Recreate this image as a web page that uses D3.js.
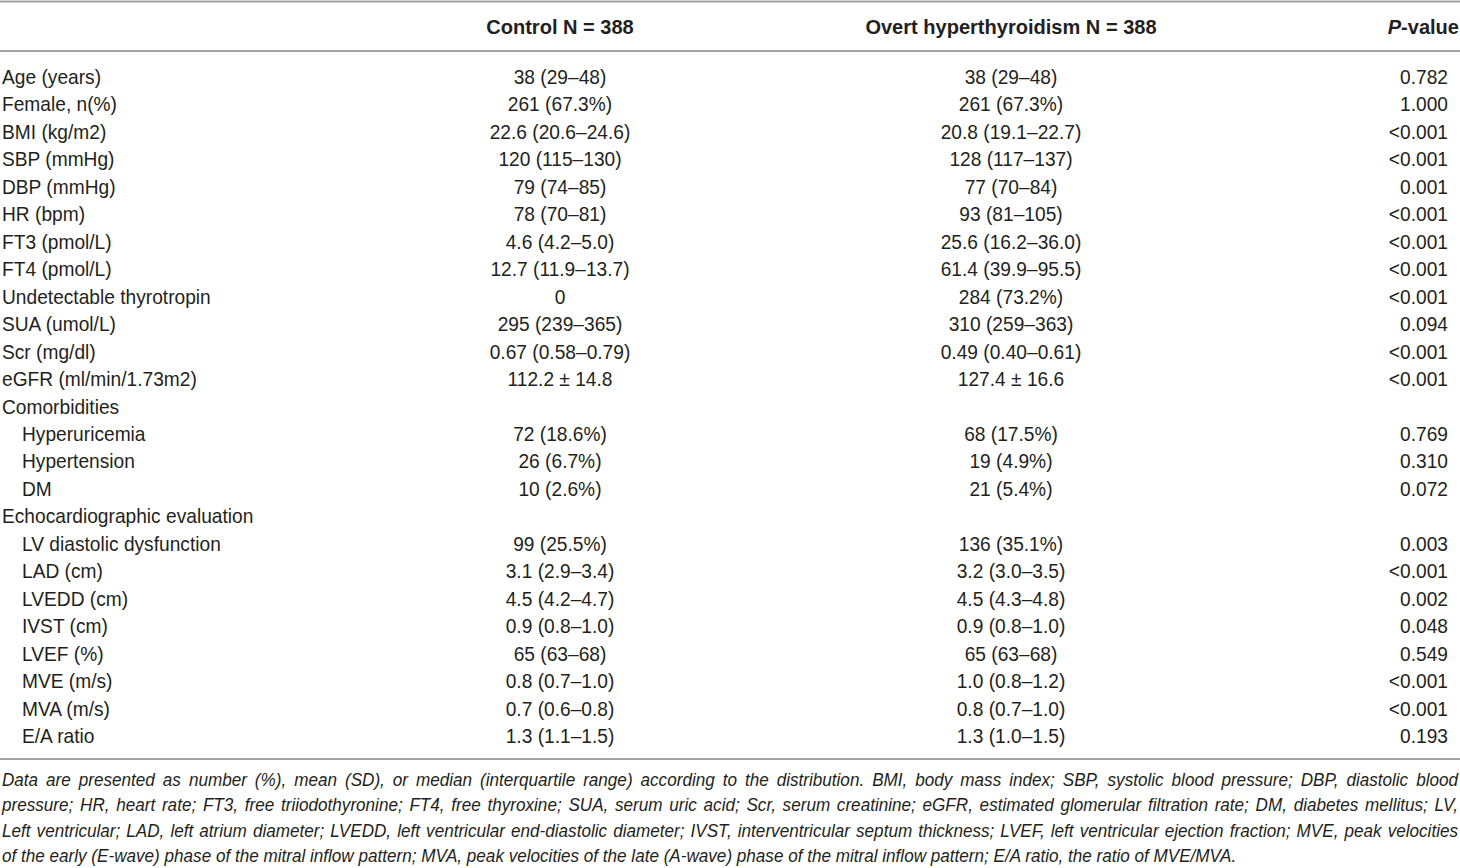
<!DOCTYPE html>
<html>
<head>
<meta charset="utf-8">
<script src="https://cdn.jsdelivr.net/npm/d3@7"></script>
<style>
  body { margin: 0; background: #fff; }
  svg text { font-family: "Liberation Sans", Arial, sans-serif; fill: #231f20; }
</style>
</head>
<body>
<div id="table"></div>
<script>
"use strict";

// table content
var headers = ["Control N = 388", "Overt hyperthyroidism N = 388", "P-value"];

var labels = [
    "Age (years)", "Female, n(%)", "BMI (kg/m2)", "SBP (mmHg)", "DBP (mmHg)", "HR (bpm)",
    "FT3 (pmol/L)", "FT4 (pmol/L)", "Undetectable thyrotropin", "SUA (umol/L)", "Scr (mg/dl)",
    "eGFR (ml/min/1.73m2)", "Comorbidities", "Hyperuricemia", "Hypertension", "DM",
    "Echocardiographic evaluation", "LV diastolic dysfunction", "LAD (cm)", "LVEDD (cm)",
    "IVST (cm)", "LVEF (%)", "MVE (m/s)", "MVA (m/s)", "E/A ratio"
];

// 1 = sub-item, indented
var indents = [0, 0, 0, 0, 0, 0, 0, 0, 0, 0, 0, 0, 0, 1, 1, 1, 0, 1, 1, 1, 1, 1, 1, 1, 1];

var controlValues = [
    "38 (29–48)", "261 (67.3%)", "22.6 (20.6–24.6)", "120 (115–130)", "79 (74–85)", "78 (70–81)",
    "4.6 (4.2–5.0)", "12.7 (11.9–13.7)", "0", "295 (239–365)", "0.67 (0.58–0.79)", "112.2 ± 14.8",
    "", "72 (18.6%)", "26 (6.7%)", "10 (2.6%)", "", "99 (25.5%)", "3.1 (2.9–3.4)", "4.5 (4.2–4.7)",
    "0.9 (0.8–1.0)", "65 (63–68)", "0.8 (0.7–1.0)", "0.7 (0.6–0.8)", "1.3 (1.1–1.5)"
];

var overtValues = [
    "38 (29–48)", "261 (67.3%)", "20.8 (19.1–22.7)", "128 (117–137)", "77 (70–84)", "93 (81–105)",
    "25.6 (16.2–36.0)", "61.4 (39.9–95.5)", "284 (73.2%)", "310 (259–363)", "0.49 (0.40–0.61)", "127.4 ± 16.6",
    "", "68 (17.5%)", "19 (4.9%)", "21 (5.4%)", "", "136 (35.1%)", "3.2 (3.0–3.5)", "4.5 (4.3–4.8)",
    "0.9 (0.8–1.0)", "65 (63–68)", "1.0 (0.8–1.2)", "0.8 (0.7–1.0)", "1.3 (1.0–1.5)"
];

var pValues = [
    "0.782", "1.000", "<0.001", "<0.001", "0.001", "<0.001", "<0.001", "<0.001", "<0.001", "0.094",
    "<0.001", "<0.001", "", "0.769", "0.310", "0.072", "", "0.003", "<0.001", "0.002", "0.048",
    "0.549", "<0.001", "<0.001", "0.193"
];

var footnoteLines = [
    "Data are presented as number (%), mean (SD), or median (interquartile range) according to the distribution. BMI, body mass index; SBP, systolic blood pressure; DBP, diastolic blood",
    "pressure; HR, heart rate; FT3, free triiodothyronine; FT4, free thyroxine; SUA, serum uric acid; Scr, serum creatinine; eGFR, estimated glomerular filtration rate; DM, diabetes mellitus; LV,",
    "Left ventricular; LAD, left atrium diameter; LVEDD, left ventricular end-diastolic diameter; IVST, interventricular septum thickness; LVEF, left ventricular ejection fraction; MVE, peak velocities",
    "of the early (E-wave) phase of the mitral inflow pattern; MVA, peak velocities of the late (A-wave) phase of the mitral inflow pattern; E/A ratio, the ratio of MVE/MVA."
];

var width = 1460, height = 868;

// the original uses a condensed grotesque; squeeze Liberation Sans horizontally
var bodyFont = 21, bodyScale = 0.913;
var headFont = 21, headScale = 0.955;
var noteFont = 17.5, noteScale = 0.978;

var svg = d3.select("#table")
    .append("svg")
    .attr("width", width)
    .attr("height", height);

// row baselines
var y = d3.scalePoint()
    .domain(d3.range(labels.length))
    .range([84, 743]);

var yNote = d3.scalePoint()
    .domain(d3.range(footnoteLines.length))
    .range([785.5, 862]);

// column anchors
var col = { label: 2, indent: 22, control: 560, overt: 1011, p: 1448, pHead: 1459 };

// rules
var rules = [1.5, 51, 759];
svg.selectAll("line.rule")
    .data(rules)
    .join("line")
    .attr("class", "rule")
    .attr("x1", 0)
    .attr("x2", width)
    .attr("y1", d => d)
    .attr("y2", d => d)
    .attr("stroke", "#a3a3a3")
    .attr("stroke-width", 1.8);

// header
var head = svg.append("g")
    .style("font-size", headFont + "px")
    .style("font-weight", "bold");

var headY = 33.5;

head.append("text")
    .attr("transform", `translate(${col.control},${headY}) scale(${headScale},1)`)
    .attr("text-anchor", "middle")
    .text(headers[0]);

head.append("text")
    .attr("transform", `translate(${col.overt},${headY}) scale(${headScale},1)`)
    .attr("text-anchor", "middle")
    .text(headers[1]);

var pHead = head.append("text")
    .attr("transform", `translate(${col.pHead},${headY}) scale(${headScale},1)`)
    .attr("text-anchor", "end");
pHead.append("tspan").style("font-style", "italic").text(headers[2].slice(0, 1));
pHead.append("tspan").text(headers[2].slice(1));

// body rows
var rows = svg.append("g")
    .style("font-size", bodyFont + "px")
    .selectAll("g.row")
    .data(labels.map((d, i) => i))
    .join("g")
    .attr("class", "row")
    .attr("transform", i => `translate(0,${y(i)})`);

rows.append("text")
    .attr("transform", i => `translate(${indents[i] ? col.indent : col.label},0) scale(${bodyScale},1)`)
    .text(i => labels[i]);

rows.append("text")
    .attr("transform", `translate(${col.control},0) scale(${bodyScale},1)`)
    .attr("text-anchor", "middle")
    .text(i => controlValues[i]);

rows.append("text")
    .attr("transform", `translate(${col.overt},0) scale(${bodyScale},1)`)
    .attr("text-anchor", "middle")
    .text(i => overtValues[i]);

rows.append("text")
    .attr("transform", `translate(${col.p},0) scale(${bodyScale},1)`)
    .attr("text-anchor", "end")
    .text(i => pValues[i]);

// footnote, justified except the last line
var noteRight = 1458, noteLeft = 2;
var notes = svg.append("g")
    .style("font-size", noteFont + "px")
    .style("font-style", "italic")
    .selectAll("text")
    .data(footnoteLines)
    .join("text")
    .attr("transform", (d, i) => `translate(${noteLeft},${yNote(i)}) scale(${noteScale},1)`)
    .text(d => d);

notes.each(function (d, i) {
    if (i === footnoteLines.length - 1) return;
    var natural = this.getComputedTextLength();
    var target = (noteRight - noteLeft) / noteScale;
    var gaps = d.split(" ").length - 1;
    d3.select(this).style("word-spacing", ((target - natural) / gaps) + "px");
});
</script>
</body>
</html>
